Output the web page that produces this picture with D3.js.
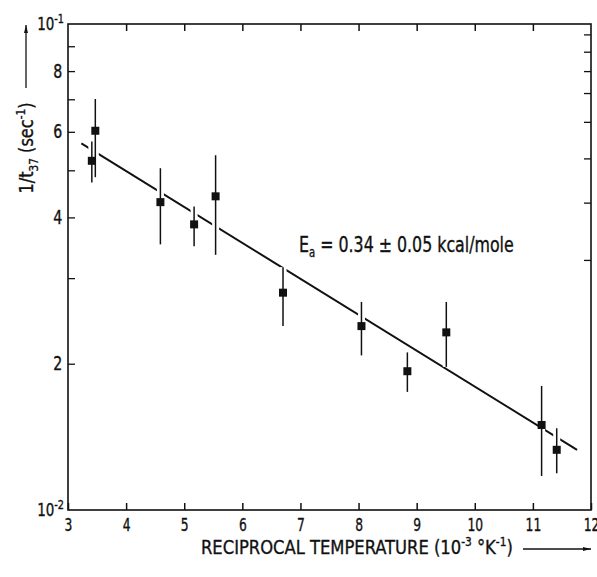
<!DOCTYPE html>
<html>
<head>
  <meta charset="UTF-8">
  <style>
    body { margin: 0; background: #fff; }
    svg text { font-family: "DejaVu Sans", sans-serif; font-stretch: condensed; fill: #111; stroke: #111; stroke-width: 0.35px; }
  </style>
</head>
<body>
<svg></svg>
<script src="https://cdn.jsdelivr.net/npm/d3@7"></script>
<script>
// data
let recipT  = [3.41, 3.47, 4.59, 5.17, 5.54, 6.70, 8.05, 8.84, 9.51, 11.15, 11.41];
let rate    = [0.0523, 0.0603, 0.0430, 0.0387, 0.0442, 0.0280, 0.0239, 0.0193, 0.0232, 0.01496, 0.0133];
let errHigh = [0.0573, 0.0701, 0.0505, 0.0421, 0.0537, 0.0316, 0.0268, 0.0211, 0.0268, 0.0180, 0.01473];
let errLow  = [0.0472, 0.0484, 0.0352, 0.0349, 0.0335, 0.0239, 0.0208, 0.0175, 0.0197, 0.01175, 0.0119];
let fitX    = [3.23, 11.76];
let fitY    = [0.0568, 0.0133];
let xTicks  = [3, 4, 5, 6, 7, 8, 9, 10, 11, 12];
let yTicks  = [0.02, 0.03, 0.04, 0.05, 0.06, 0.07, 0.08, 0.09];
let yLabels = [0.02, 0.04, 0.06, 0.08];
let rightTicks = [0.0952, 0.0877, 0.080, 0.0721, 0.0629, 0.0529, 0.0429, 0.0327];

let width = 597, height = 577;
let svg = d3.select("svg").attr("width", width).attr("height", height);

let x = d3.scaleLinear().domain([3, 12]).range([68, 591]);
let y = d3.scaleLog().domain([0.01, 0.1]).range([510, 24]);

// frame
svg.append("rect")
  .attr("x", x(3)).attr("y", y(0.1))
  .attr("width", x(12) - x(3)).attr("height", y(0.01) - y(0.1))
  .attr("fill", "none").attr("stroke", "#111").attr("stroke-width", 1.6);

// bottom axis, ticks pointing in
let xAxis = svg.append("g")
  .attr("transform", "translate(0," + y(0.01) + ")")
  .call(d3.axisBottom(x).tickValues(xTicks).tickSizeInner(-7).tickSizeOuter(0).tickPadding(8).tickFormat(d3.format("d")));
xAxis.select(".domain").remove();
xAxis.selectAll("line").attr("stroke", "#111").attr("stroke-width", 1.5);
xAxis.selectAll("text").style("font-size", "18px").attr("fill", "#111")
  .attr("transform", "scale(0.76,1)");

// top axis ticks
let topAxis = svg.append("g")
  .attr("transform", "translate(0," + y(0.1) + ")")
  .call(d3.axisTop(x).tickValues(xTicks.slice(1, -1)).tickSizeInner(-7).tickSizeOuter(0).tickFormat(""));
topAxis.select(".domain").remove();
topAxis.selectAll("line").attr("stroke", "#111").attr("stroke-width", 1.5);

// left axis
let yAxis = svg.append("g")
  .attr("transform", "translate(" + x(3) + ",0)")
  .call(d3.axisLeft(y).tickValues(yTicks).tickSizeInner(-7).tickSizeOuter(0).tickPadding(7)
    .tickFormat(d => yLabels.includes(d) ? Math.round(d * 100) : ""));
yAxis.select(".domain").remove();
yAxis.selectAll("line").attr("stroke", "#111").attr("stroke-width", 1.3);
yAxis.selectAll("text").style("font-size", "19px").attr("fill", "#111")
  .attr("transform", "scale(0.83,1)");

// right axis ticks
let rAxis = svg.append("g")
  .attr("transform", "translate(" + x(12) + ",0)")
  .call(d3.axisRight(y).tickValues(rightTicks).tickSizeInner(-7).tickSizeOuter(0).tickFormat(""));
rAxis.select(".domain").remove();
rAxis.selectAll("line").attr("stroke", "#111").attr("stroke-width", 1.3);

// decade labels
[[0.1, "-1"], [0.01, "-2"]].forEach(p => {
  let t = svg.append("text")
    .attr("transform", "translate(" + (x(3) - 4) + "," + (y(p[0]) + 6) + ") scale(0.83,1)")
    .attr("text-anchor", "end")
    .style("font-size", "18px");
  t.append("tspan").text("10");
  t.append("tspan").attr("dy", -7).style("font-size", "13px").text(p[1]);
});

// fit line
svg.append("line")
  .attr("x1", x(fitX[0])).attr("y1", y(fitY[0]))
  .attr("x2", x(fitX[1])).attr("y2", y(fitY[1]))
  .attr("stroke", "#111").attr("stroke-width", 2);

// white halo behind error bars so the fit line breaks where they cross
let pts = recipT.map((v, i) => ({x: v, y: rate[i], hi: errHigh[i], lo: errLow[i]}));
svg.append("g").selectAll("line").data(pts).enter().append("line")
  .attr("x1", d => x(d.x)).attr("x2", d => x(d.x))
  .attr("y1", d => y(d.hi)).attr("y2", d => y(d.lo))
  .attr("stroke", "#fff").attr("stroke-width", 7);

svg.append("g").selectAll("line").data(pts).enter().append("line")
  .attr("x1", d => x(d.x)).attr("x2", d => x(d.x))
  .attr("y1", d => y(d.hi)).attr("y2", d => y(d.lo))
  .attr("stroke", "#111").attr("stroke-width", 1.5);

svg.append("g").selectAll("rect").data(pts).enter().append("rect")
  .attr("x", d => x(d.x) - 4).attr("y", d => y(d.y) - 4)
  .attr("width", 8).attr("height", 8)
  .attr("fill", "#111");

// annotation
let ann = svg.append("text")
  .attr("transform", "translate(299,252) scale(0.8,1)")
  .style("font-size", "22px");
ann.append("tspan").text("E");
ann.append("tspan").attr("dy", 5).style("font-size", "14px").text("a");
ann.append("tspan").attr("dy", -5).text(" = 0.34 \u00b1 0.05  kcal/mole");

// x axis title with arrow
let xt = svg.append("text")
  .attr("transform", "translate(201,554) scale(0.91,1)")
  .style("font-size", "20px");
xt.append("tspan").text("RECIPROCAL  TEMPERATURE (10");
xt.append("tspan").attr("dy", -8).style("font-size", "13px").text("-3");
xt.append("tspan").attr("dy", 8).text(" \u00b0K");
xt.append("tspan").attr("dy", -8).style("font-size", "13px").text("-1");
xt.append("tspan").attr("dy", 8).text(")");

svg.append("defs").append("marker")
  .attr("id", "arrow")
  .attr("viewBox", "0 -5 20 10")
  .attr("refX", 20).attr("refY", 0)
  .attr("markerWidth", 14).attr("markerHeight", 4)
  .attr("markerUnits", "userSpaceOnUse")
  .attr("orient", "auto")
  .append("path").attr("d", "M0,-5L20,0L0,5Z").attr("fill", "#111");

svg.append("line")
  .attr("x1", 523).attr("y1", 549).attr("x2", 591).attr("y2", 549)
  .attr("stroke", "#111").attr("stroke-width", 1.3)
  .attr("marker-end", "url(#arrow)");

// y axis title with arrow
let yt = svg.append("text")
  .attr("transform", "translate(33,148) rotate(-90) scale(0.9,1)")
  .attr("text-anchor", "middle")
  .style("font-size", "20px");
yt.append("tspan").text("1/t");
yt.append("tspan").attr("dy", 5).style("font-size", "13px").text("37");
yt.append("tspan").attr("dy", -5).text(" (sec");
yt.append("tspan").attr("dy", -8).style("font-size", "13px").text("-1");
yt.append("tspan").attr("dy", 8).text(")");

svg.append("line")
  .attr("x1", 26).attr("y1", 88).attr("x2", 26).attr("y2", 25)
  .attr("stroke", "#111").attr("stroke-width", 1.3)
  .attr("marker-end", "url(#arrow)");
</script>
</body>
</html>
